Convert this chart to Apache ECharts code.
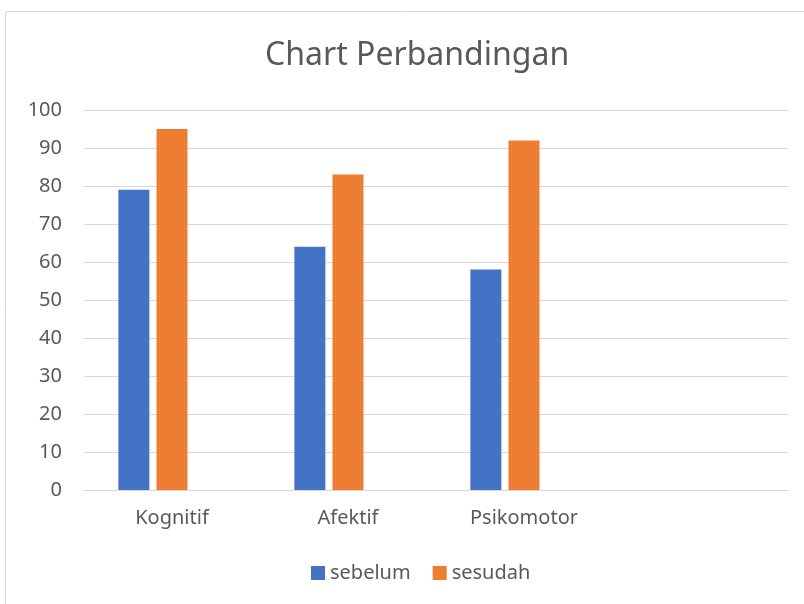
<!DOCTYPE html>
<html><head><meta charset="utf-8">
<script src="https://cdn.jsdelivr.net/npm/echarts@6/dist/echarts.min.js"></script>
<style>html,body{margin:0;padding:0;background:#fff}#c{width:804px;height:604px}</style>
</head><body><div id="c"></div>
<script>
const categories = ['Kognitif', 'Afektif', 'Psikomotor', ''];
const sebelum = [79, 64, 58, null];
const sesudah = [95, 83, 92, null];
const kosong = [null, null, null, null];
const yTicks = { min: 0, max: 100, interval: 10 };

const chart = echarts.init(document.getElementById('c'), null, { renderer: 'canvas' });
const font = '"Noto Sans", "Open Sans", sans-serif';
chart.setOption({
  animation: false,
  backgroundColor: '#fff',
  graphic: [{ type: 'rect', shape: { x: 5.5, y: 11.5, width: 820, height: 620 }, style: { fill: 'none', stroke: '#d9d9d9', lineWidth: 1 }, silent: true }],
  title: { text: 'Chart Perbandingan', left: 260, top: 35,
    textStyle: { fontFamily: font, fontWeight: 'normal', fontSize: 32, color: '#595959' } },
  legend: { data: ['sebelum', 'sesudah'], bottom: 16, left: 306, itemWidth: 14, itemHeight: 14, itemGap: 22,
    icon: 'rect', textStyle: { fontFamily: font, fontSize: 20, color: '#595959' } },
  grid: { left: 84, right: 16, top: 110, bottom: 114, containLabel: false },
  xAxis: { type: 'category', data: categories,
    axisLine: { lineStyle: { color: '#d9d9d9', width: 1 } }, axisTick: { show: false },
    axisLabel: { fontFamily: font, fontSize: 20, color: '#595959', margin: 18 } },
  yAxis: { type: 'value', min: yTicks.min, max: yTicks.max, interval: yTicks.interval,
    axisLine: { show: false }, axisTick: { show: false },
    splitLine: { lineStyle: { color: '#d9d9d9', width: 1 } },
    axisLabel: { fontFamily: font, fontSize: 20, color: '#595959', margin: 22 } },
  series: [
    { name: 'sebelum', type: 'bar', data: sebelum, barWidth: 31, barGap: '23%', itemStyle: { color: '#4472C4' } },
    { name: 'sesudah', type: 'bar', data: sesudah, barWidth: 31, barGap: '23%', itemStyle: { color: '#ED7D31' } },
    { name: 'kosong', type: 'bar', data: kosong, barWidth: 31, barGap: '23%', itemStyle: { color: '#A5A5A5' } }
  ]
});
</script></body></html>
